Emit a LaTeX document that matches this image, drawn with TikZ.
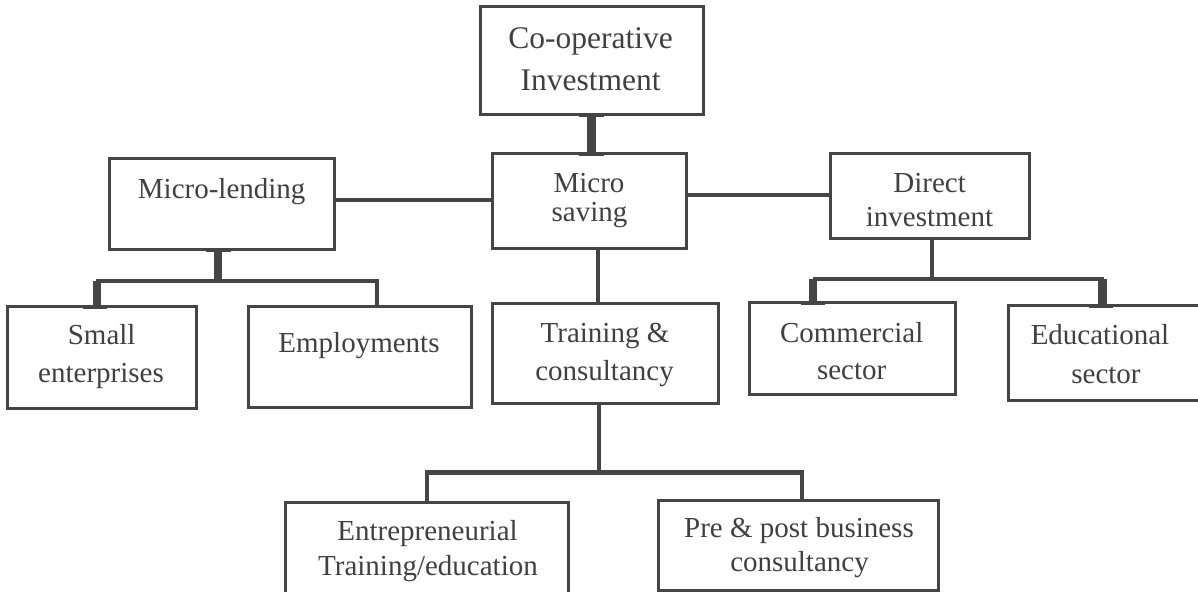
\documentclass[tikz,border=0pt]{standalone}
\usepackage{fontspec}
\setmainfont{Liberation Serif}
\usetikzlibrary{calc}
\definecolor{linegray}{HTML}{454545}
\definecolor{textgray}{HTML}{404040}
\begin{document}
\begin{tikzpicture}[x=0.5pt,y=-0.5pt,
  box/.style={draw=linegray,line width=1.5pt,rectangle,inner sep=0pt,outer sep=0pt},
  txt/.style={text=textgray,inner sep=0pt,anchor=base,font=\fontsize{14.5}{17}\selectfont},
  bigtxt/.style={text=textgray,inner sep=0pt,anchor=base,font=\fontsize{15.75}{19}\selectfont},
  thinc/.style={draw=linegray,line width=1.7pt},
  medc/.style={draw=linegray,line width=2.3pt},
  thickc/.style={draw=linegray,line width=4.3pt},
  capbar/.style={draw=linegray,line width=1.6pt}]
\useasboundingbox (0,0) rectangle (1198,592);
\clip (0,0) rectangle (1198,592);
\fill[white] (0,0) rectangle (1198,592);

% boxes
\node[box,minimum width=111.5pt,minimum height=54pt] (coop) at (591.5,61) {};
\node[box,minimum width=97pt,minimum height=47.5pt] (ms) at (589,201.5) {};
\node[box,minimum width=112.5pt,minimum height=45.5pt] (ml) at (221.5,204.5) {};
\node[box,minimum width=99.5pt,minimum height=42.5pt] (di) at (929.5,196.5) {};
\node[box,minimum width=94.5pt,minimum height=51pt] (se) at (101.5,358) {};
\node[box,minimum width=111.5pt,minimum height=50.5pt] (em) at (359.5,357.5) {};
\node[box,minimum width=113pt,minimum height=50pt] (tc) at (605,354) {};
\node[box,minimum width=103pt,minimum height=46pt] (cs) at (852,349) {};
\node[box,minimum width=98pt,minimum height=47.5pt] (es) at (1106,353.5) {};
\node[box,minimum width=141.5pt,minimum height=55pt] (et) at (426.5,557) {};
\node[box,minimum width=140pt,minimum height=45pt] (pp) at (798,545) {};

% texts
\node[bigtxt] (t-coop1) at (590.5,49) {Co-operative};
\node[bigtxt] (t-coop2) at (590.5,91) {Investment};
\node[txt] (t-ms1) at (589,193) {Micro};
\node[txt] (t-ms2) at (589.5,222) {saving};
\node[txt] (t-ml) at (221.7,199) {Micro-lending};
\node[txt] (t-di1) at (929.6,193) {Direct};
\node[txt] (t-di2) at (929.5,226.5) {investment};
\node[txt] (t-se1) at (101.7,345) {Small};
\node[txt] (t-se2) at (101,383) {enterprises};
\node[txt] (t-em) at (359,352.5) {Employments};
\node[txt] (t-tc1) at (605,342.5) {Training \&};
\node[txt] (t-tc2) at (604.5,381) {consultancy};
\node[txt] (t-cs1) at (851.7,342.3) {Commercial};
\node[txt] (t-cs2) at (851.7,380) {sector};
\node[txt] (t-es1) at (1100,345) {Educational};
\node[txt] (t-es2) at (1106,383.3) {sector};
\node[txt] (t-et1) at (427.5,540.7) {Entrepreneurial};
\node[txt] (t-et2) at (428,575) {Training/education};
\node[txt] (t-pp1) at (799,538) {Pre \& post business};
\node[txt] (t-pp2) at (799.5,571.5) {consultancy};

% junction coordinates
\coordinate (mlj) at (218,281);
\coordinate (mlL) at (97,281);
\coordinate (mlR) at (377,281);
\coordinate (mst) at (598,250);
\coordinate (dij) at (932,279);
\coordinate (diL) at (813,279);
\coordinate (diR) at (1102.5,279);
\coordinate (tcj) at (599,472.5);
\coordinate (tcL) at (427,472.5);
\coordinate (tcR) at (802,472.5);

% Co-operative -> Micro saving
\draw[thickc] (coop.south) -- (coop.south |- ms.north);
\draw[capbar] ($(coop.south)+(-12.5,0)$) -- ($(coop.south)+(12.5,0)$);
\draw[capbar] ($(coop.south |- ms.north)+(-12.5,0)$) -- ($(coop.south |- ms.north)+(12.5,0)$);

% Micro-lending -- Micro saving -- Direct investment
\draw[medc] ($(ml.east)+(0,-4.5)$) -- ($(ml.east -| ms.west)+(0,-4.5)$);
\draw[medc] ($(di.west -| ms.east)+(0,-1.5)$) -- ($(di.west)+(0,-1.5)$);

% Micro-lending -> children
\draw[thickc] (mlj |- ml.south) -- (mlj);
\draw[capbar] ($(mlj |- ml.south)+(-12.5,0)$) -- ($(mlj |- ml.south)+(12.5,0)$);
\draw[capbar] ($(mlj)+(-12.5,0)$) -- ($(mlj)+(12.5,0)$);
\draw[thinc,line join=miter] (mlR |- em.north) -- (mlR) -- (mlL);
\draw[thickc] (mlL) -- (mlL |- se.north);
\draw[capbar] ($(mlL)+(-1,0)$) -- ($(mlL)+(10,0)$);
\draw[capbar] ($(mlL |- se.north)+(-14,0)$) -- ($(mlL |- se.north)+(10,0)$);

% Micro saving -> Training & consultancy
\draw[medc] (mst |- ms.south) -- (mst |- tc.north);

% Direct investment -> children
\draw[medc] (dij |- di.south) -- (dij);
\draw[medc] (diL) -- (diR);
\draw[thickc] (diL) -- (diL |- cs.north);
\draw[capbar] ($(diL |- cs.north)+(-12,0)$) -- ($(diL |- cs.north)+(12,0)$);
\draw[thickc] (diR) -- (diR |- es.north);
\draw[capbar] ($(diR)+(-13,0)$) -- ($(diR)+(1,0)$);
\draw[capbar] ($(diR |- es.north)+(-13.5,0)$) -- ($(diR |- es.north)+(10.5,0)$);

% Training & consultancy -> children
\draw[medc] (tcj |- tc.south) -- (tcj);
\draw[medc,line join=miter] (tcL |- et.north) -- (tcL) -- (tcR) -- (tcR |- pp.north);
\end{tikzpicture}
\end{document}
